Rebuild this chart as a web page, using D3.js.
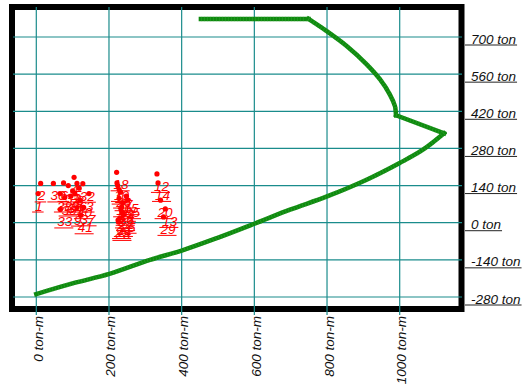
<!DOCTYPE html>
<html><head><meta charset="utf-8">
<script src="https://cdn.jsdelivr.net/npm/d3@7"></script>
<style>html,body{margin:0;padding:0;background:#fff;}svg{display:block;}</style>
</head><body>
<script>
// ---- data ----
const xTicks = [0, 200, 400, 600, 800, 1000];
const yTicks = [-280, -140, 0, 140, 280, 420, 560, 700];
// interaction curve (moment ton-m, axial ton), in three pieces
const topM = [453, 749];
const topP = [768, 768];
const upperM = [749, 799, 854, 909, 946, 973, 987, 989, 990];
const upperP = [768, 722, 666, 597, 540, 483, 439, 420, 405];
const diagM = [990, 1122];
const diagP = [405, 337];
const lowerM = [1122, 1065, 1000, 909, 800, 698, 600, 497, 400, 313, 201, 102, 0];
const lowerP = [337, 276, 225, 162, 99, 49, -4, -58, -105, -140, -193, -228, -269];
// load points
const ptLabel = ["1","2","30","6","4","5","32","3","7","8","31","38","36","39","34","40","33","9","37","41",
                 "18","10","11","26","17","19","35","15","24","16","27","22","25","21","23","28",
                 "12","14","20","13","29"];
const ptM = [5, 12, 47, 75, 104, 112, 128, 145, 100, 118, 88, 65, 106, 78, 95, 120, 66, 112, 130, 122,
             221, 222, 224, 228, 232, 228, 252, 248, 238, 235, 233, 236, 240, 230, 225, 226,
             332, 335, 342, 355, 350];
const ptP = [110, 148, 148, 150, 171, 148, 147, 110, 120, 130, 140, 110, 110, 95, 100, 85, 50, 57, 58, 28,
             190, 150, 140, 125, 115, 92, 85, 100, 75, 60, 50, 40, 30, 18, 10, 3,
             184, 150, 85, 52, 22];

// ---- chart ----
const W = 525, H = 387;
const svg = d3.select("body").append("svg").attr("width", W).attr("height", H);
const x = d3.scaleLinear().domain([0, 1000]).range([36.3, 399.7]);
const y = d3.scaleLinear().domain([-280, 700]).range([297, 37]);
const font = "'Liberation Sans', Arial, sans-serif";

// frame
svg.append("rect").attr("x", 12).attr("y", 7).attr("width", 449.5).attr("height", 302)
  .attr("fill", "#fff").attr("stroke", "#000").attr("stroke-width", 6);

// grid
const grid = svg.append("g").attr("stroke", "#1a8c8c").attr("stroke-width", 1.2);
grid.selectAll("line.h").data(yTicks).join("line").attr("class", "h")
  .attr("x1", 13).attr("x2", 462).attr("y1", d => y(d)).attr("y2", d => y(d));
grid.selectAll("line.v").data(xTicks).join("line").attr("class", "v")
  .attr("x1", d => x(d)).attr("x2", d => x(d)).attr("y1", 7).attr("y2", 315);

// right axis labels
const yAx = svg.append("g").attr("transform", "translate(465,0)")
  .call(d3.axisRight(y).tickValues(yTicks).tickSize(0).tickPadding(6).tickFormat(d => d + " ton"));
yAx.select(".domain").remove();
yAx.selectAll("text").attr("font-family", font).attr("font-size", 13.5).attr("font-style", "italic")
  .attr("fill", "#111").attr("dy", 0).attr("y", 6);
yAx.selectAll(".tick").each(function() {
  const t = d3.select(this).select("text");
  const len = t.node().getComputedTextLength();
  d3.select(this).append("line").attr("x1", 0).attr("x2", 6 + len + 1)
    .attr("y1", 7.5).attr("y2", 7.5).attr("stroke", "#222").attr("stroke-width", 1);
});

// bottom axis labels (rotated)
const xAx = svg.append("g").attr("transform", "translate(0,316)")
  .call(d3.axisBottom(x).tickValues(xTicks).tickSize(0).tickFormat(d => d + " ton-m"));
xAx.select(".domain").remove();
xAx.selectAll("text").attr("font-family", font).attr("font-size", 13.5).attr("font-style", "italic")
  .attr("fill", "#111").attr("text-anchor", "end").attr("transform", "rotate(-90)")
  .attr("x", 0).attr("y", 6).attr("dy", 0);

// curve
const pieces = [[topM, topP, d3.curveLinear], [upperM, upperP, d3.curveCatmullRom],
                [diagM, diagP, d3.curveLinear], [lowerM, lowerP, d3.curveCatmullRom]];
const cg = svg.append("g");
pieces.forEach(([ms, ps, cv]) => {
  const line = d3.line().curve(cv).x((d, i) => x(ms[i])).y((d, i) => y(ps[i]));
  cg.append("path").datum(ms).attr("d", line).attr("fill", "none")
    .attr("stroke", "#0e8a0e").attr("stroke-width", 4.5).attr("stroke-linejoin", "round").attr("stroke-linecap", "square");
  cg.append("path").datum(ms).attr("d", line).attr("fill", "none")
    .attr("stroke", "#3aa83a").attr("stroke-width", 4.5).attr("stroke-dasharray", "0.7,2.3").attr("opacity", 0.6);
});

// points
const pts = svg.append("g");
ptLabel.forEach((lab, i) => {
  const px = x(ptM[i]), py = y(ptP[i]);
  pts.append("circle").attr("cx", px).attr("cy", py).attr("r", 2.6).attr("fill", "#ff0000");
  const t = pts.append("text").attr("x", px - 3).attr("y", py + 17).text(lab)
    .attr("font-family", font).attr("font-size", 13.5).attr("font-style", "italic").attr("fill", "#ff0000");
  const len = t.node().getComputedTextLength();
  pts.append("line").attr("x1", px - 6).attr("x2", px - 3 + len + 1)
    .attr("y1", py + 18.5).attr("y2", py + 18.5).attr("stroke", "#ff0000").attr("stroke-width", 1);
});
</script>
</body></html>
